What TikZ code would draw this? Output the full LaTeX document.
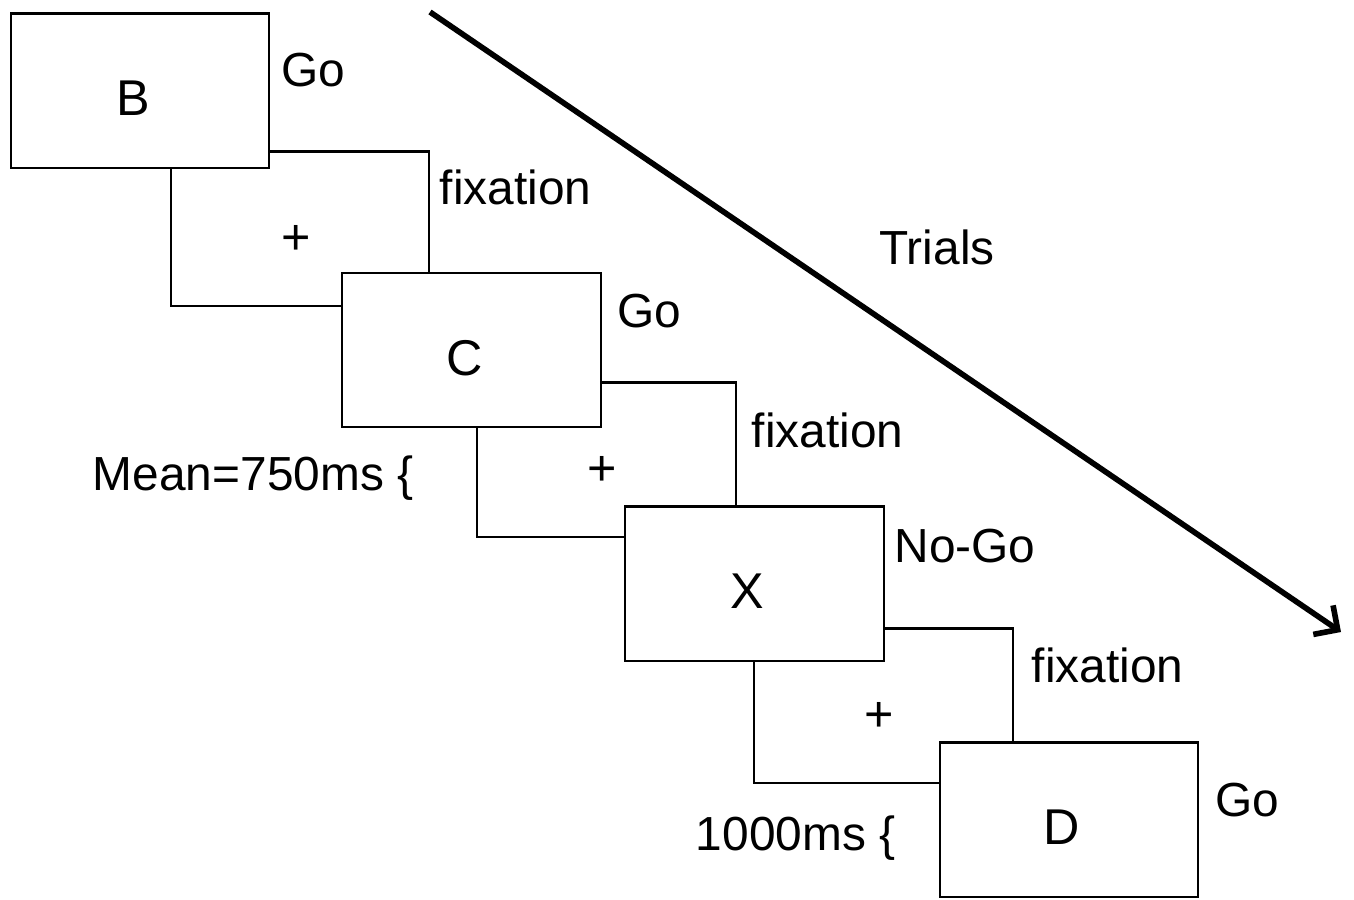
\documentclass[tikz,border=0pt]{standalone}
\usepackage{fontspec}
\setmainfont{Liberation Sans}
\usetikzlibrary{arrows.meta}

\begin{document}
\begin{tikzpicture}[x=0.01cm,y=-0.01cm,
  stim/.style={draw,line width=0.6pt,fill=white,minimum width=2.58cm,minimum height=1.54cm,inner sep=0pt},
  fix/.style={stim},
  lbl/.style={font=\fontsize{13.6}{16}\selectfont,inner sep=0pt},
  letter/.style={font=\fontsize{14.3}{17}\selectfont,inner sep=0pt,shift={(-7,8)}},
  cross/.style={font=\fontsize{14.3}{17}\selectfont,inner sep=0pt,shift={(-4,11)}}]
\useasboundingbox (0,0) rectangle (1354,899);

% Fixation screens (behind)
\node[fix,label={[cross]center:+}] (f1) at (300,228.5) {};
\node[fix,label={[cross]center:+}] (f2) at (606.5,459.5) {};
\node[fix,label={[cross]center:+}] (f3) at (883.5,705.5) {};

% Stimulus screens
\node[stim,label={[letter]center:B}] (B) at (140,90.5) {};
\node[stim,label={[letter]center:C}] (C) at (471.5,350) {};
\node[stim,label={[letter]center:X}] (X) at (754.5,583.5) {};
\node[stim,label={[letter]center:D}] (D) at (1069,819.5) {};

% Labels
\node[lbl,anchor=west] (goB) at (281,70) {Go};
\node[lbl,anchor=west] (fixA) at (439,187) {fixation};
\node[lbl,anchor=west] (goC) at (617,311) {Go};
\node[lbl,anchor=west] (fixB) at (751,430) {fixation};
\node[lbl,anchor=west] (nogoX) at (894,546) {No-Go};
\node[lbl,anchor=west] (fixC) at (1031,665) {fixation};
\node[lbl,anchor=west] (goD) at (1215,800) {Go};

% Timing
\node[lbl,anchor=east] (mean) at (414,478) {Mean=750ms \{};
\node[lbl,anchor=east] (isi) at (896,838) {1000ms \{};

% Trials arrow
\coordinate (tstart) at (430,12);
\coordinate (tend) at (1341,632);
\draw[line width=1.6pt,-{Straight Barb[length=5pt,width=10pt]}] (tstart) -- (tend);
\node[lbl] (trials) at (937,247) {Trials};
\end{tikzpicture}
\end{document}
